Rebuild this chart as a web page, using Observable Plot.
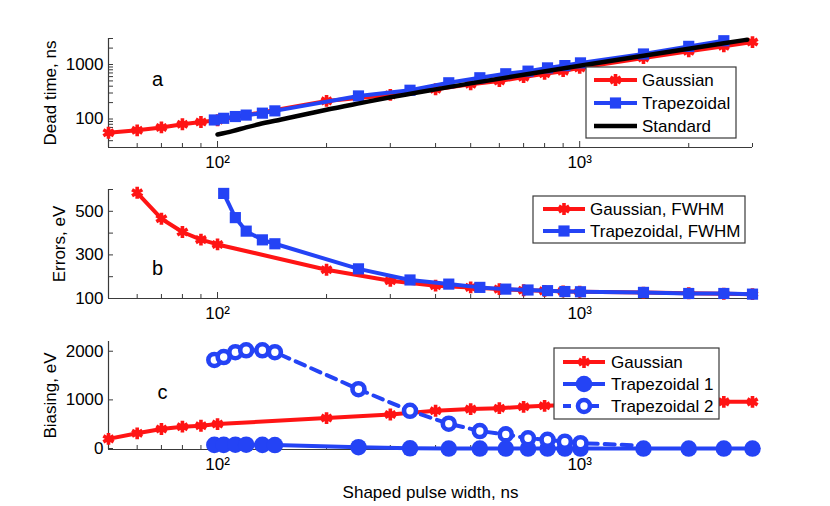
<!DOCTYPE html>
<html><head><meta charset="utf-8">
<script src="https://cdn.jsdelivr.net/npm/d3@7"></script>
<script src="https://cdn.jsdelivr.net/npm/@observablehq/plot@0.6"></script>
<style>
body{margin:0;background:#fff;}
#wrap{position:relative;width:830px;height:506px;font-family:"Liberation Sans",Arial,sans-serif;}
#wrap svg{position:absolute;left:0;overflow:visible;}
</style></head><body><div id="wrap"></div>
<script>
// ---------- data ----------
const gaussX = [50,60,70,80,90,100,200,300,400,500,600,700,800,900,1000,1500,2000,2500,3000];
const gaussDead = [56,62,70,80,88,95,215,277,351,433,497,587,676,755,867,1318,1746,2153,2577];
const trapDeadX = [98,104,112,120,133,144,245,340,435,530,625,720,815,910,1005,1500,2000,2500];
const trapDead = [96,103,111,118,128,141,265,337,462,571,676,755,867,955,1071,1560,2153,2730];
const stdX = [100,110,120,130,150,175,200,250,300,400,500,700,1000,1500,2000,2500,2900];
const stdDead = [52,60,70,80,98,122,148,198,250,350,450,650,950,1450,1950,2450,2850];

const gaussErrX = [60,70,80,90,100,200,300,400,500,600,700,800,900,1000,1500,2000,2500,3000];
const gaussErr = [585,466,405,370,348,232,181,159,151,143,138,135,133,131,127,124,122,120];
const trapErrX = [104,112,120,133,144,245,340,435,530,625,720,815,910,1005,1500,2000,2500,3000];
const trapErr = [582,471,409,369,351,236,185,166,151,143,139,136,132,131,128,123,123,120];

const gaussBias = [198,313,401,449,469,503,626,700,776,810,830,857,878,890,900,930,950,959,959];
const trapX = [98,104,112,120,133,144,245,340,435,530,625,720,815,910,1005,1500,2000,2500,3000];
const trap1Bias = [75,75,78,78,75,72,27,5,0,0,0,0,0,0,0,0,0,0,0];
const trap2X = [98,104,112,120,133,144,245,340,435,530,625,720,815,910,1005,1500];
const trap2Bias = [1820,1880,1980,2020,2020,1980,1220,775,510,360,290,210,180,140,110,60];

const xMajor = [100,1000];
const xMinor = [60,70,80,90,200,300,400,500,600,700,800,900,2000,3000];
const xTickLabels = ["10²","10³"];
const deadTicks = [30,40,50,60,70,80,90,100,200,300,400,500,600,700,800,900,1000,2000,3000];
const deadLabels = [100,1000];
const errTicks = [100,200,300,400,500,600];
const errLabels = [100,300,500];
const biasTicks = [0,1000,2000];

// ---------- style ----------
const RED = "#ff1414", BLUE = "#2443f5", BLACK = "#000", AX = "#3a3a3a";
const W = 830, ML = 108, MR = 78, PW = W - ML - MR;
const FONT = {fontFamily: '"Liberation Sans", Arial, sans-serif', fontSize: "17px", background: "transparent", overflow: "visible"};
const wrap = document.getElementById("wrap");

const pts = (xs, ys) => xs.map((x, i) => ({x, y: ys[i]}));

function frameMarks(plotH, xmin, ymin, yTicks, yLabels, yFmt) {
  return [
    Plot.ruleX(xMinor, {x: d => d, stroke: AX, strokeWidth: 1, insetTop: plotH - 4}),
    Plot.ruleX(xMajor, {x: d => d, stroke: AX, strokeWidth: 1, insetTop: plotH - 6}),
    Plot.ruleY(yTicks, {y: d => d, stroke: AX, strokeWidth: 1, insetRight: PW - 5}),
    Plot.ruleY([ymin], {stroke: AX, strokeWidth: 1.2}),
    Plot.ruleX([xmin], {stroke: AX, strokeWidth: 1.2}),
    Plot.axisX({ticks: xMajor, tickSize: 0, tickPadding: 8, tickFormat: (d) => xTickLabels[xMajor.indexOf(d)], label: null, fill: BLACK}),
    Plot.axisY({ticks: yLabels, tickSize: 0, tickPadding: 5, tickFormat: yFmt, label: null, fill: BLACK})
  ];
}

function place(svg, top) {
  svg.style.top = top + "px";
  wrap.appendChild(svg);
}

const GR = 5.6, GSW = 3.6;
const gaussSym = {symbol: "asterisk", stroke: RED, strokeWidth: GSW, r: GR};
const OR = 6, OSW = 4.6;
const letter = (s, dx, dy) => Plot.text([s], {frameAnchor: "top-left", dx, dy, text: d => d, textAnchor: "middle", lineAnchor: "middle", fill: BLACK, fontSize: 20});

// ---------- panel a ----------
{
  const H = 180, MT = 38, MB = 33, plotH = H - MT - MB;
  const svg = Plot.plot({
    width: W, height: H, marginLeft: ML, marginRight: MR, marginTop: MT, marginBottom: MB,
    style: FONT,
    x: {type: "log", domain: [50, 3000]},
    y: {type: "log", domain: [30, 3000]},
    marks: [
      ...frameMarks(plotH, 50, 30, deadTicks, deadLabels, d => String(d)),
      Plot.line(pts(gaussX, gaussDead), {x: "x", y: "y", stroke: RED, strokeWidth: 4}),
      Plot.dot(pts(gaussX, gaussDead), {x: "x", y: "y", ...gaussSym}),
      Plot.line(pts(trapDeadX, trapDead), {x: "x", y: "y", stroke: BLUE, strokeWidth: 4}),
      Plot.dot(pts(trapDeadX, trapDead), {x: "x", y: "y", symbol: "square", fill: BLUE, r: 6.3}),
      Plot.line(pts(stdX, stdDead), {x: "x", y: "y", stroke: BLACK, strokeWidth: 4.5, curve: "monotone-x"}),
      letter("a", 49, 41),
      Plot.text(["Dead time, ns"], {frameAnchor: "left", dx: -58, rotate: -90, text: d => d, textAnchor: "middle", lineAnchor: "middle", fill: BLACK})
    ]
  });
  place(svg, 0);
}

// ---------- panel b ----------
{
  const H = 160, MT = 19, MB = 32, plotH = H - MT - MB;
  const svg = Plot.plot({
    width: W, height: H, marginLeft: ML, marginRight: MR, marginTop: MT, marginBottom: MB,
    style: FONT,
    x: {type: "log", domain: [50, 3000]},
    y: {domain: [100, 600]},
    marks: [
      ...frameMarks(plotH, 50, 100, errTicks, errLabels, d => String(d)),
      Plot.line(pts(gaussErrX, gaussErr), {x: "x", y: "y", stroke: RED, strokeWidth: 4}),
      Plot.dot(pts(gaussErrX, gaussErr), {x: "x", y: "y", ...gaussSym}),
      Plot.line(pts(trapErrX, trapErr), {x: "x", y: "y", stroke: BLUE, strokeWidth: 4}),
      Plot.dot(pts(trapErrX, trapErr), {x: "x", y: "y", symbol: "square", fill: BLUE, r: 6.3}),
      letter("b", 49, 79),
      Plot.text(["Errors, eV"], {frameAnchor: "left", dx: -49, rotate: -90, text: d => d, textAnchor: "middle", lineAnchor: "middle", fill: BLACK})
    ]
  });
  place(svg, 170);
}

// ---------- panel c ----------
{
  const H = 176, MT = 11, MB = 57, plotH = H - MT - MB;
  const t2 = pts(trap2X, trap2Bias);
  const svg = Plot.plot({
    width: W, height: H, marginLeft: ML, marginRight: MR, marginTop: MT, marginBottom: MB,
    style: FONT,
    x: {type: "log", domain: [50, 3000]},
    y: {domain: [-20, 2200]},
    marks: [
      ...frameMarks(plotH, 50, -20, biasTicks, biasTicks, d => String(d)),
      Plot.line(pts(gaussX, gaussBias), {x: "x", y: "y", stroke: RED, strokeWidth: 4}),
      Plot.dot(pts(gaussX, gaussBias), {x: "x", y: "y", ...gaussSym}),
      Plot.line(pts(trapX, trap1Bias), {x: "x", y: "y", stroke: BLUE, strokeWidth: 4}),
      Plot.dot(pts(trapX, trap1Bias), {x: "x", y: "y", fill: BLUE, r: 8.3}),
      Plot.line(t2, {x: "x", y: "y", stroke: BLUE, strokeWidth: 4, strokeDasharray: "10,7"}),
      Plot.dot(t2.filter(d => d.x <= 1005), {x: "x", y: "y", fill: "white", stroke: BLUE, strokeWidth: OSW, r: OR}),
      letter("c", 54, 51),
      Plot.text(["Biasing, eV"], {frameAnchor: "left", dx: -58, rotate: -90, text: d => d, textAnchor: "middle", lineAnchor: "middle", fill: BLACK}),
      Plot.text(["Shaped pulse width, ns"], {frameAnchor: "bottom", dy: 43, text: d => d, textAnchor: "middle", lineAnchor: "middle", fill: BLACK})
    ]
  });
  place(svg, 330);
}

// ---------- legends ----------
const legendsData = [
  {box: [586, 67, 150, 71], lx: [594, 637], tx: 642, rows: [
    {y: 80, label: "Gaussian", color: RED, kind: "gauss"},
    {y: 103, label: "Trapezoidal", color: BLUE, kind: "square"},
    {y: 126, label: "Standard", color: BLACK, kind: "none"}]},
  {box: [533, 196, 212, 47], lx: [543, 585], tx: 590, rows: [
    {y: 209, label: "Gaussian, FWHM", color: RED, kind: "gauss"},
    {y: 231, label: "Trapezoidal, FWHM", color: BLUE, kind: "square"}]},
  {box: [554, 348, 165, 71], lx: [563, 605], tx: 611, rows: [
    {y: 362, label: "Gaussian", color: RED, kind: "gauss"},
    {y: 384, label: "Trapezoidal 1", color: BLUE, kind: "dot"},
    {y: 406, label: "Trapezoidal 2", color: BLUE, kind: "open", dash: "8,6"}]}
];
const ov = d3.select(wrap).append("svg").attr("width", W).attr("height", 506)
  .style("top", "0px").style("pointer-events", "none")
  .style("font-family", '"Liberation Sans", Arial, sans-serif').style("font-size", "17px");
legendsData.forEach(L => {
  const g = ov.append("g");
  g.append("rect").attr("x", L.box[0]).attr("y", L.box[1]).attr("width", L.box[2]).attr("height", L.box[3])
    .attr("fill", "white").attr("stroke", AX).attr("stroke-width", 1.2);
  L.rows.forEach(r => {
    const cx = (L.lx[0] + L.lx[1]) / 2;
    g.append("line").attr("x1", L.lx[0]).attr("x2", L.lx[1]).attr("y1", r.y).attr("y2", r.y)
      .attr("stroke", r.color).attr("stroke-width", r.kind === "none" ? 4.5 : 4)
      .attr("stroke-dasharray", r.dash || null);
    if (r.kind === "gauss") {
      g.append("path").attr("d", d3.symbol(d3.symbolAsterisk, Math.PI * GR * GR)())
        .attr("transform", `translate(${cx},${r.y})`).attr("fill", "none").attr("stroke", RED).attr("stroke-width", GSW);
    } else if (r.kind === "square") {
      g.append("path").attr("d", d3.symbol(d3.symbolSquare, Math.PI * 6.3 * 6.3)())
        .attr("transform", `translate(${cx},${r.y})`).attr("fill", BLUE);
    } else if (r.kind === "dot") {
      g.append("circle").attr("cx", cx).attr("cy", r.y).attr("r", 8.3).attr("fill", BLUE);
    } else if (r.kind === "open") {
      g.append("circle").attr("cx", cx).attr("cy", r.y).attr("r", OR).attr("fill", "white").attr("stroke", BLUE).attr("stroke-width", OSW);
    }
    g.append("text").attr("x", L.tx).attr("y", r.y).attr("dominant-baseline", "central").attr("fill", BLACK).text(r.label);
  });
});
</script></body></html>
